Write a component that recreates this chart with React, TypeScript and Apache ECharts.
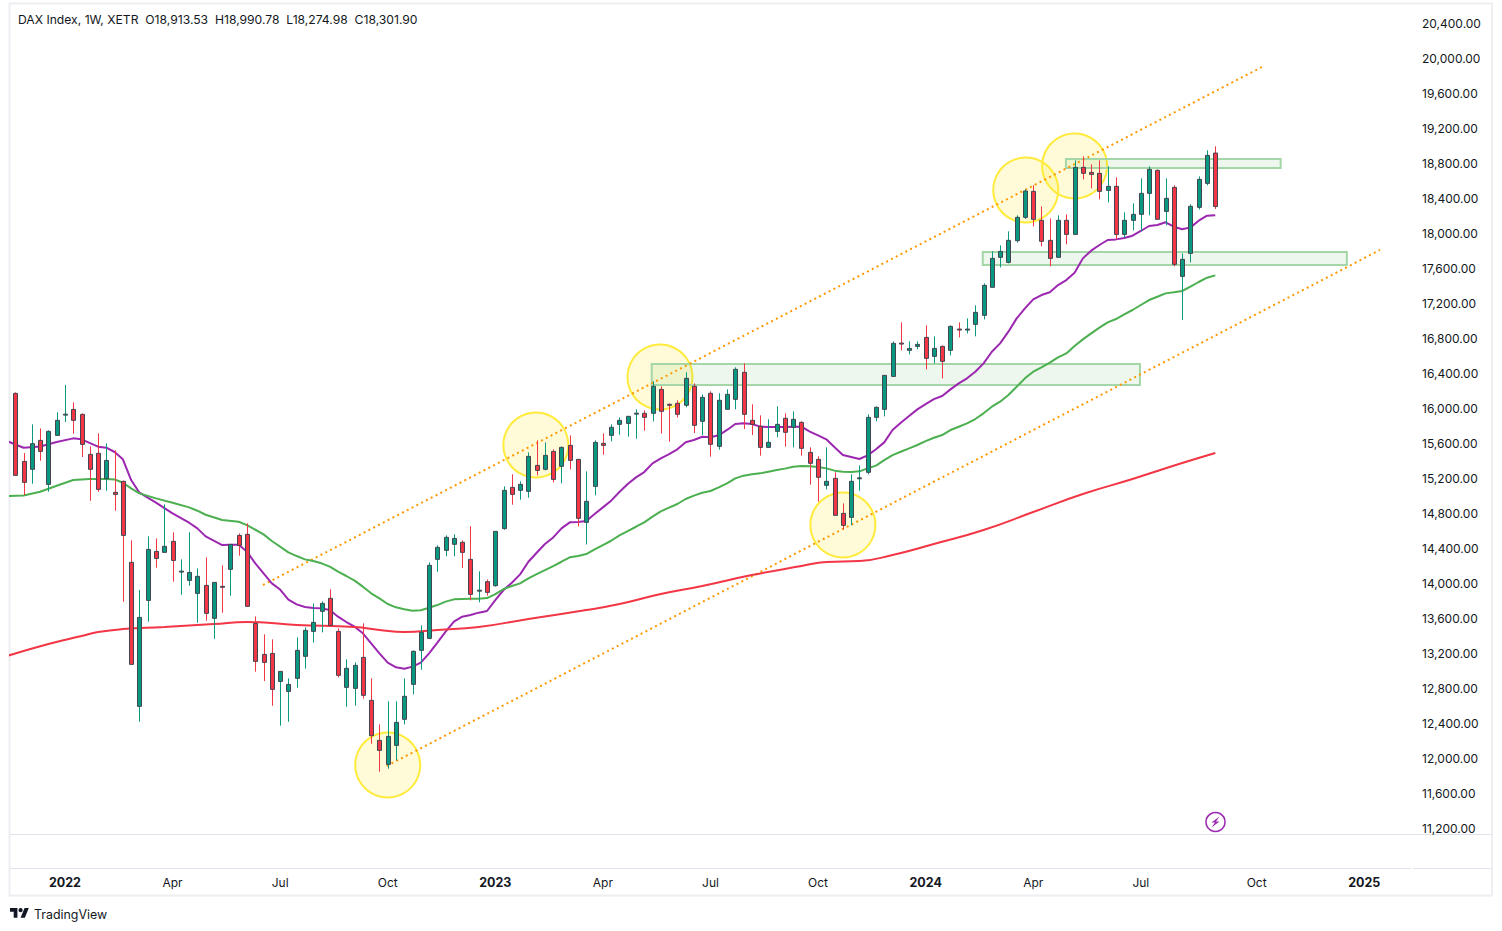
import React, { useEffect, useRef } from 'react';
import * as echarts from 'echarts';

// Weekly DAX candles, week 0 is 22 Nov 2021, last one is 2 Sep 2024
const candleOpen = [
  16167, 15390, 15299, 15630, 15127, 15687, 15925, 15984, 15927, 15470, 15482, 15192, 15036, 15161, 14236, 12590, 13801, 14361, 14350, 14476,
  14130, 14030, 13881, 13973, 13596, 13962, 14156, 14544, 14556, 13538, 13184, 13195, 12875, 12761, 12910, 13162, 13447, 13676, 13825, 13447,
  12807, 12796, 13150, 12659, 12202, 11927, 12144, 12442, 12842, 13230, 13367, 14270, 14373, 14442, 14465, 14270, 13914, 14015, 13969, 14621,
  15093, 15059, 15047, 15344, 15299, 15504, 15333, 15573, 15413, 14693, 15104, 15596, 15687, 15813, 15824, 15937, 15939, 15939, 16213, 16042,
  16053, 16031, 16248, 15848, 16168, 15562, 15985, 16099, 16408, 15859, 15791, 15550, 15733, 15882, 15779, 15836, 15493, 15413, 15116, 15196,
  14796, 14750, 15198, 15265, 15893, 15984, 16361, 16742, 16659, 16704, 16807, 16590, 16704, 16659, 16902, 16897, 16956, 17059, 17379, 17722,
  17664, 17912, 18179, 18476, 18145, 17916, 17722, 18145, 17984, 18750, 18693, 18682, 18487, 18533, 17984, 18145, 18213, 18453, 18716, 18247,
  18522, 17504, 17767, 18293, 18567, 18913.53,
];
const candleHigh = [
  16179, 15485, 15813, 15767, 15744, 15950, 16263, 16064, 15939, 15562, 15710, 15596, 15516, 15173, 14487, 13919, 14533, 14510, 14899, 14579,
  14270, 14579, 14167, 14293, 14007, 14201, 14441, 14567, 14681, 13618, 13413, 13356, 12990, 12910, 13378, 13493, 13767, 13790, 13928, 13482,
  13127, 13093, 13539, 12910, 12384, 12647, 12647, 12910, 13230, 13516, 14236, 14430, 14545, 14556, 14488, 14648, 14133, 14041, 14590, 15104,
  15242, 15162, 15493, 15630, 15607, 15527, 15561, 15687, 15413, 15276, 15630, 15710, 15813, 15893, 15905, 15985, 15973, 16305, 16248, 16053,
  16088, 16408, 16282, 16156, 16191, 16168, 16213, 16465, 16511, 16042, 15916, 15871, 16019, 15939, 15962, 15848, 15550, 15448, 15550, 15265,
  14910, 15242, 15345, 15928, 16019, 16373, 16761, 16979, 16761, 16761, 16944, 16819, 16716, 16944, 16979, 17024, 17173, 17424, 17790, 17859,
  18019, 18202, 18499, 18545, 18305, 18167, 18202, 18213, 18830, 18876, 18785, 18830, 18762, 18636, 18236, 18339, 18625, 18762, 18727, 18625,
  18545, 17767, 18328, 18647, 18945, 18990.78,
];
const candleLow = [
  15230, 15005, 15135, 15398, 15043, 15687, 15840, 15706, 15440, 14940, 15043, 15055, 14826, 13786, 13070, 12414, 13557, 14175, 14350, 14015,
  13866, 13969, 13546, 13569, 13363, 13660, 13855, 14312, 13733, 12986, 12879, 12597, 12369, 12414, 12803, 13021, 13318, 13436, 13516, 12922,
  12586, 12598, 12678, 12163, 11843, 11878, 11973, 12384, 12727, 13009, 13367, 14129, 14305, 14305, 14171, 13802, 13779, 13855, 13958, 14609,
  14895, 14952, 14975, 15230, 15287, 15150, 15139, 15299, 14647, 14441, 15002, 15466, 15619, 15695, 15672, 15649, 15741, 15847, 15707, 15615,
  15890, 16008, 15714, 15691, 15444, 15524, 15985, 15985, 15760, 15691, 15455, 15550, 15665, 15558, 15550, 15455, 15124, 14929, 15070, 14773,
  14613, 14659, 15055, 15242, 15848, 15904, 16361, 16659, 16613, 16670, 16441, 16510, 16339, 16601, 16807, 16853, 16819, 17013, 17379, 17607,
  17653, 17890, 18160, 18076, 17847, 17619, 17722, 17870, 17984, 18613, 18510, 18385, 18350, 17927, 17950, 18030, 18019, 18202, 18156, 18087,
  17619, 17005, 17664, 18270, 18545, 18274.98,
];
const candleClose = [
  15230, 15150, 15592, 15504, 15733, 15859, 15930, 15859, 15584, 15299, 15070, 15401, 15013, 14544, 13070, 13607, 14384, 14281, 14419, 14258,
  14136, 14121, 14076, 13653, 14007, 13960, 14441, 14430, 13733, 13104, 13093, 12784, 12990, 12841, 13230, 13459, 13550, 13767, 13516, 12945,
  13025, 13059, 12716, 12255, 12087, 12247, 12407, 12705, 13219, 13436, 14202, 14408, 14522, 14510, 14350, 13870, 13918, 13893, 14590, 15059,
  15013, 15127, 15447, 15287, 15459, 15184, 15550, 15402, 14739, 14933, 15607, 15573, 15779, 15859, 15905, 15941, 15893, 16248, 15962, 16031,
  15928, 16339, 15802, 16122, 15585, 16088, 16156, 16442, 15928, 15813, 15550, 15608, 15813, 15722, 15871, 15539, 15368, 15208, 15162, 14773,
  14659, 15162, 15202, 15893, 16008, 16373, 16739, 16735, 16681, 16727, 16567, 16681, 16533, 16933, 16897, 16902, 17093, 17402, 17710, 17790,
  17916, 18179, 18480, 18156, 17905, 17710, 18145, 17984, 18750, 18682, 18670, 18476, 18533, 17984, 18145, 18213, 18453, 18727, 18156, 18396,
  17642, 17699, 18305, 18613, 18887, 18301.9,
];

// Moving averages as [week, price]
const fastAverage = [
  [-1, 15622], [1, 15546], [3, 15561], [5, 15611], [7, 15653], [8, 15642], [10, 15558], [11, 15546], [12, 15497], [13, 15413], [14, 15177], [15, 15032],
  [17, 14918], [19, 14796], [21, 14689], [22, 14624], [23, 14533], [25, 14434], [26, 14438], [27, 14438], [28, 14358], [29, 14224], [30, 14110], [31, 13996],
  [32, 13925], [33, 13810], [34, 13756], [35, 13726], [36, 13714], [37, 13710], [38, 13691], [39, 13615], [40, 13554], [41, 13501], [42, 13425], [43, 13310],
  [44, 13196], [45, 13089], [46, 13036], [47, 13021], [48, 13044], [49, 13089], [50, 13196], [51, 13318], [52, 13444], [53, 13558], [54, 13615], [55, 13634],
  [56, 13661], [57, 13680], [58, 13805], [59, 13920], [60, 14003], [61, 14099], [62, 14243], [63, 14346], [64, 14445], [65, 14521], [66, 14624], [67, 14693],
  [68, 14697], [69, 14708], [70, 14788], [71, 14864], [72, 14941], [73, 15040], [74, 15131], [75, 15207], [76, 15268], [77, 15367], [78, 15425], [79, 15474],
  [80, 15528], [81, 15608], [82, 15634], [83, 15672], [84, 15665], [85, 15688], [86, 15749], [87, 15817], [88, 15825], [89, 15817], [90, 15787], [91, 15783],
  [92, 15783], [93, 15783], [94, 15787], [95, 15787], [96, 15730], [97, 15688], [98, 15642], [99, 15551], [100, 15463], [101, 15440], [102, 15417], [103, 15459],
  [104, 15528], [105, 15607], [106, 15748], [107, 15832], [108, 15908], [109, 15984], [110, 16045], [111, 16102], [112, 16137], [113, 16213], [114, 16281], [115, 16339],
  [116, 16415], [117, 16510], [118, 16643], [119, 16739], [120, 16872], [121, 17024], [122, 17139], [123, 17242], [124, 17291], [125, 17322], [126, 17405], [127, 17462],
  [128, 17546], [129, 17710], [130, 17798], [131, 17863], [132, 17920], [133, 17927], [134, 17943], [135, 17969], [136, 18023], [137, 18080], [138, 18091], [139, 18122],
  [140, 18072], [141, 18042], [142, 18064], [143, 18141], [144, 18198], [145, 18202],
];
const midAverage = [
  [-1, 14994], [1, 15001], [3, 15043], [5, 15112], [7, 15177], [9, 15188], [11, 15188], [12, 15184], [13, 15146], [14, 15081], [15, 15024], [17, 14967],
  [19, 14918], [21, 14864], [22, 14826], [23, 14780], [25, 14720], [27, 14700], [28, 14662], [30, 14556], [31, 14480], [33, 14350], [34, 14308], [35, 14270],
  [36, 14251], [37, 14225], [38, 14187], [39, 14129], [40, 14080], [41, 14027], [42, 13958], [43, 13882], [44, 13825], [45, 13760], [46, 13722], [47, 13699],
  [48, 13684], [49, 13688], [50, 13718], [51, 13748], [52, 13787], [53, 13813], [54, 13817], [55, 13821], [56, 13821], [57, 13828], [58, 13874], [59, 13931],
  [60, 13965], [61, 13996], [62, 14053], [63, 14102], [64, 14148], [65, 14194], [66, 14243], [67, 14293], [68, 14308], [69, 14331], [70, 14384], [71, 14434],
  [72, 14483], [73, 14544], [74, 14594], [75, 14643], [76, 14693], [77, 14758], [78, 14819], [79, 14861], [80, 14903], [81, 14960], [82, 14998], [83, 15032],
  [84, 15051], [85, 15093], [86, 15139], [87, 15196], [88, 15227], [89, 15242], [90, 15253], [91, 15272], [92, 15291], [93, 15307], [94, 15329], [95, 15337],
  [96, 15333], [97, 15326], [98, 15310], [99, 15284], [100, 15272], [101, 15269], [102, 15276], [103, 15310], [104, 15341], [105, 15405], [106, 15462], [107, 15500],
  [108, 15538], [109, 15577], [110, 15622], [111, 15660], [112, 15691], [113, 15748], [114, 15786], [115, 15824], [116, 15874], [117, 15939], [118, 16015], [119, 16072],
  [120, 16148], [121, 16243], [122, 16339], [123, 16415], [124, 16464], [125, 16518], [126, 16579], [127, 16624], [128, 16708], [129, 16784], [130, 16853], [131, 16918],
  [132, 16979], [133, 17017], [134, 17070], [135, 17120], [136, 17177], [137, 17234], [138, 17272], [139, 17310], [140, 17322], [141, 17337], [142, 17386], [143, 17440],
  [144, 17489], [145, 17516],
];
const slowAverage = [
  [-1, 13166], [4, 13303], [8, 13394], [10, 13440], [13, 13474], [18, 13497], [24, 13531], [28, 13554], [34, 13520], [41, 13497], [44, 13463], [47, 13440],
  [51, 13463], [56, 13497], [62, 13589], [69, 13691], [73, 13760], [78, 13874], [83, 13966], [89, 14091], [95, 14194], [98, 14240], [102, 14251], [106, 14320],
  [111, 14446], [117, 14606], [123, 14811], [129, 15017], [135, 15189], [141, 15371], [145, 15486],
];

// Drawn objects, in [week, price]
const upperChannel = [[29.93, 13977], [150.64, 19897]];
const lowerChannel = [[44.88, 11909], [164.9, 17806]];
const touchCircles = [[45, 11920], [62.9, 15577], [77.9, 16354], [100, 14663], [122.1, 18491], [128, 18766]];
const zones = [
  [76.9, 135.9, 16503, 16263],
  [116.9, 160.9, 17783, 17634],
  [126.95, 152.9, 18846, 18743],
];

const monthTicks = [6, 19, 32, 45, 58, 71, 84, 97, 110, 123, 136, 150, 163];
const monthLabels = ['2022', 'Apr', 'Jul', 'Oct', '2023', 'Apr', 'Jul', 'Oct', '2024', 'Apr', 'Jul', 'Oct', '2025'];

const headerText = 'DAX Index, 1W, XETR  O18,913.53  H18,990.78  L18,274.98  C18,301.90';

const FONT = 'Inter, "Noto Sans", sans-serif';
const TEXT_COLOR = '#131722';
const UP = '#089981';
const DOWN = '#f23645';
const BODY_BORDER = '#434651';
const PANE_LINE = '#e0e3eb';
const FRAME = '#eeeef3';

echarts.graphic.registerShape('tvLogo', echarts.graphic.extendPath('M14 22H7V11H0V4h14v18ZM28 22h-8l7.5-18h8L28 22Z M24 8a4 4 0 1 1-8 0a4 4 0 1 1 8 0Z', {}));

const App: React.FC = () => {
  const chartRef = useRef<HTMLDivElement>(null);

  useEffect(() => {
    document.body.style.margin = '0';
    const chart = echarts.init(chartRef.current, undefined, { renderer: 'svg' });

    const candles = candleOpen.map((open, i) => [i, open, candleHigh[i], candleLow[i], candleClose[i]]);

    const renderCandle = (params: any, api: any) => {
      const week = api.value(0);
      const open = api.value(1);
      const high = api.value(2);
      const low = api.value(3);
      const close = api.value(4);
      const top = api.coord([week, Math.max(open, close)]);
      const bottom = api.coord([week, Math.min(open, close)]);
      const wickTop = api.coord([week, high]);
      const wickBottom = api.coord([week, low]);
      const color = close >= open ? UP : DOWN;
      const x = Math.round(top[0]) + 0.5;
      return {
        type: 'group',
        children: [
          {
            type: 'line',
            shape: { x1: x, y1: wickTop[1], x2: x, y2: wickBottom[1] },
            style: { stroke: color, lineWidth: 1 },
          },
          {
            type: 'rect',
            shape: { x: x - 2, y: top[1], width: 4, height: Math.max(bottom[1] - top[1], 1) },
            style: { fill: color, stroke: BODY_BORDER, lineWidth: 1 },
          },
        ],
      };
    };

    const renderZone = (params: any, api: any) => {
      const a = api.coord([api.value(0), api.value(2)]);
      const b = api.coord([api.value(1), api.value(3)]);
      return {
        type: 'rect',
        shape: { x: a[0], y: a[1], width: b[0] - a[0], height: b[1] - a[1] },
        style: { fill: 'rgba(76,175,80,0.1)', stroke: '#a5d6a7', lineWidth: 2 },
      };
    };

    const averageLine = (name: string, data: number[][], color: string, smooth = false) => ({
      name,
      type: 'line',
      data,
      z: 4,
      smooth,
      showSymbol: false,
      silent: true,
      lineStyle: { color, width: 2 },
    });

    const channelLine = (name: string, data: number[][]) => ({
      name,
      type: 'line',
      data,
      z: 3,
      showSymbol: false,
      silent: true,
      lineStyle: { color: '#ff9800', width: 2, type: [2, 3.4] },
    });

    const option: any = {
      animation: false,
      backgroundColor: '#ffffff',
      textStyle: { fontFamily: FONT },
      grid: { left: 10, right: 90, top: 23, height: 805 },
      xAxis: {
        type: 'value',
        min: -0.64,
        max: 168.77,
        splitLine: { show: false },
        axisLine: { show: false },
        axisTick: { show: false },
        axisLabel: {
          customValues: monthTicks,
          margin: 48,
          fontFamily: FONT,
          fontSize: 12,
          color: TEXT_COLOR,
          formatter: (value: number) => {
            const label = monthLabels[monthTicks.indexOf(value)] ?? '';
            return label.startsWith('20') ? `{year|${label}}` : label;
          },
          rich: { year: { fontFamily: FONT, fontSize: 12.5, fontWeight: 700, color: TEXT_COLOR } },
        },
      },
      yAxis: {
        type: 'value',
        position: 'right',
        min: 11200,
        max: 20400,
        interval: 400,
        splitLine: { show: false },
        axisLine: { show: false },
        axisTick: { show: false },
        axisLabel: {
          margin: 10,
          fontFamily: FONT,
          fontSize: 12,
          color: TEXT_COLOR,
          formatter: (value: number) => value.toLocaleString('en-US', { minimumFractionDigits: 2 }),
        },
      },
      series: [
        {
          name: 'Touches',
          type: 'scatter',
          data: touchCircles,
          z: 1,
          silent: true,
          symbolSize: 65,
          itemStyle: { color: 'rgba(255,235,59,0.2)', borderColor: '#ffeb3b', borderWidth: 2, opacity: 1 },
        },
        { name: 'Zones', type: 'custom', data: zones, z: 2, silent: true, renderItem: renderZone, encode: { x: [0, 1], y: [2, 3] } },
        channelLine('Upper channel', upperChannel),
        channelLine('Lower channel', lowerChannel),
        averageLine('Fast average', fastAverage, '#9c27b0'),
        averageLine('Mid average', midAverage, '#4caf50'),
        averageLine('Slow average', slowAverage, '#f23645', true),
        { name: 'DAX', type: 'custom', data: candles, z: 5, silent: true, renderItem: renderCandle, encode: { x: 0, y: [1, 2, 3, 4] } },
      ],
      graphic: [
        { type: 'rect', silent: true, shape: { x: 9.5, y: 3.5, width: 1482.5, height: 892 }, style: { fill: 'none', stroke: FRAME, lineWidth: 2 } },
        { type: 'line', silent: true, shape: { x1: 10, y1: 834.5, x2: 1492, y2: 834.5 }, style: { stroke: PANE_LINE, lineWidth: 1 } },
        { type: 'line', silent: true, shape: { x1: 10, y1: 868.5, x2: 1411, y2: 868.5 }, style: { stroke: PANE_LINE, lineWidth: 1 } },
        { type: 'line', silent: true, shape: { x1: 1413, y1: 868.5, x2: 1492, y2: 868.5 }, style: { stroke: PANE_LINE, lineWidth: 1 } },
        { type: 'text', silent: true, x: 18, y: 19, style: { text: headerText, fontFamily: FONT, fontSize: 12.15, fill: TEXT_COLOR, verticalAlign: 'middle' } },
        { type: 'tvLogo', silent: true, x: 10, y: 906, scaleX: 0.53, scaleY: 0.53, style: { fill: TEXT_COLOR } },
        { type: 'text', silent: true, x: 34, y: 914, style: { text: 'TradingView', fontFamily: FONT, fontSize: 12.4, fill: TEXT_COLOR, verticalAlign: 'middle' } },
        { type: 'circle', silent: true, shape: { cx: 1215.5, cy: 822, r: 9.5 }, style: { fill: 'none', stroke: '#9c27b0', lineWidth: 1.5 } },
        {
          type: 'polygon',
          silent: true,
          shape: { points: [[1219.5, 816.5], [1211.5, 822.5], [1215, 822.5], [1211.5, 827.5], [1219.5, 821.5], [1216, 821.5]] },
          style: { fill: '#9c27b0' },
        },
      ],
    };

    chart.setOption(option);
    return () => chart.dispose();
  }, []);

  return <div ref={chartRef} style={{ position: 'absolute', left: 0, top: 0, width: 1502, height: 931 }} />;
};

export default App;
